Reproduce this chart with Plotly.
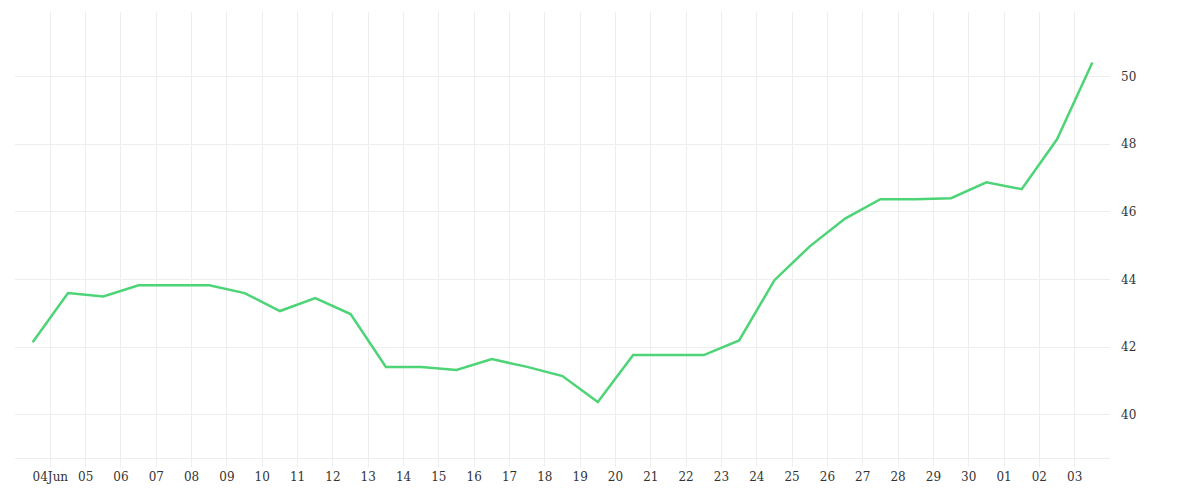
import pandas as pd
import plotly.graph_objects as go

# data, one value per day (plotted at noon)
dates = pd.date_range("2024-06-03 12:00", "2024-07-03 12:00", freq="D")
values = [42.15, 43.6, 43.5, 43.83, 43.83, 43.83, 43.6, 43.07, 43.45, 42.98,
          41.42, 41.42, 41.33, 41.65, 41.42, 41.15, 40.38, 41.77, 41.77, 41.77,
          42.2, 43.98, 44.98, 45.8, 46.37, 46.37, 46.4, 46.87, 46.67, 48.14, 50.41]

tick_dates = pd.date_range("2024-06-04", "2024-07-03", freq="D")
tick_labels = ["04Jun"] + [d.strftime("%d") for d in tick_dates[1:]]

fig = go.Figure(go.Scatter(
    x=dates, y=values, mode="lines",
    line=dict(color="#4cd476", width=2.5),
))

fig.update_layout(
    width=1200, height=500,
    margin=dict(l=7, r=98, t=4, b=50),
    plot_bgcolor="white", paper_bgcolor="white",
    font=dict(family="DejaVu Serif", size=12, color="#333"),
    showlegend=False,
    xaxis=dict(
        range=["2024-06-03", "2024-07-04"],
        tickvals=tick_dates, ticktext=tick_labels,
        showgrid=True, gridcolor="#eeeeee",
        ticks="outside", ticklen=8, tickcolor="#eeeeee",
        showline=True, linecolor="#eeeeee", zeroline=False,
    ),
    yaxis=dict(
        side="right", range=[38.73, 51.9],
        tickvals=[40, 42, 44, 46, 48, 50],
        showgrid=True, gridcolor="#eeeeee", zeroline=False,
        ticks="", ticklabelstandoff=10,
    ),
)

fig.write_html("out.html")
